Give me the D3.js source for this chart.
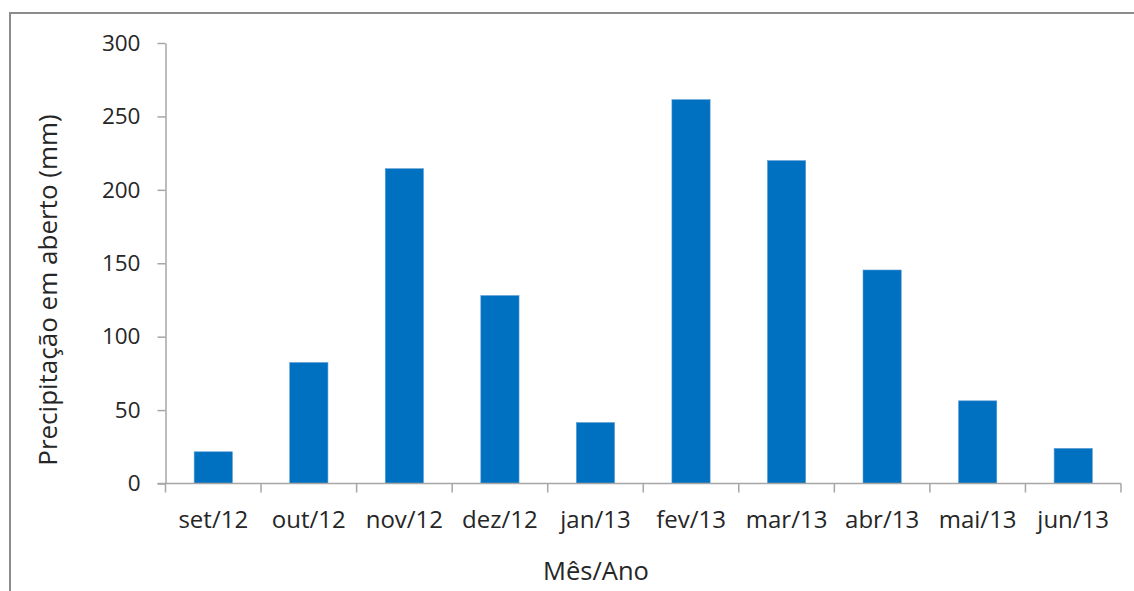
<!DOCTYPE html>
<html>
<head>
<meta charset="utf-8">
<script src="https://cdn.jsdelivr.net/npm/d3@7"></script>
<style>
  html, body { margin: 0; padding: 0; background: #fff; }
  svg { display: block; }
  text { font-family: "Open Sans", "DejaVu Sans", sans-serif; fill: #262626; }
</style>
</head>
<body>
<svg id="chart" width="1134" height="591"></svg>
<script>
// Monthly open-field precipitation, Sep 2012 – Jun 2013
const months = ["set/12", "out/12", "nov/12", "dez/12", "jan/13", "fev/13", "mar/13", "abr/13", "mai/13", "jun/13"];
const precipitation = [21.6, 82.4, 214.4, 128.0, 41.5, 261.4, 219.9, 145.4, 56.3, 23.9];
const yTicks = [0, 50, 100, 150, 200, 250, 300];

const svg = d3.select("#chart");

// Outer frame (runs off the right and bottom edges)
svg.append("rect")
  .attr("x", 10).attr("y", 13)
  .attr("width", 1140).attr("height", 600)
  .attr("fill", "none")
  .attr("stroke", "#8c8c8c")
  .attr("stroke-width", 2);

const plot = { left: 165.5, right: 1121, top: 43, bottom: 483.5 };

const x = d3.scaleBand()
  .domain(months)
  .range([plot.left, plot.right])
  .paddingInner(0.6)
  .paddingOuter(0.3);

const y = d3.scaleLinear()
  .domain([0, 300])
  .range([plot.bottom, plot.top]);

// Bars
svg.append("g")
  .selectAll("rect")
  .data(months)
  .join("rect")
  .attr("x", d => x(d))
  .attr("width", x.bandwidth())
  .attr("y", (d, i) => y(precipitation[i]))
  .attr("height", (d, i) => y(0) - y(precipitation[i]))
  .attr("fill", "#0070c0")
  .attr("stroke", "#5b9bd5")
  .attr("stroke-width", 0.6);

// Y axis
const yAxis = svg.append("g")
  .attr("transform", `translate(${plot.left},0)`)
  .call(d3.axisLeft(y).tickValues(yTicks).tickSize(8).tickPadding(17).tickSizeOuter(0));
yAxis.select(".domain").attr("stroke", "#a6a6a6").attr("stroke-width", 1.5);
yAxis.selectAll(".tick line").attr("stroke", "#a6a6a6").attr("stroke-width", 1.5);
yAxis.selectAll(".tick text")
  .attr("font-size", 22.5)
  .attr("font-family", "'Open Sans', sans-serif")
  .attr("fill", "#262626");

// X axis with boundary ticks between categories
const xAxis = svg.append("g")
  .attr("transform", `translate(0,${plot.bottom})`);
xAxis.append("line")
  .attr("x1", plot.left - 8).attr("x2", plot.right)
  .attr("y1", 0).attr("y2", 0)
  .attr("stroke", "#a6a6a6").attr("stroke-width", 1.5);
const step = x.step();
const boundaries = d3.range(months.length + 1).map(i => plot.left + i * step);
xAxis.selectAll("line.tick")
  .data(boundaries)
  .join("line")
  .attr("class", "tick")
  .attr("x1", d => d).attr("x2", d => d)
  .attr("y1", 0).attr("y2", 9)
  .attr("stroke", "#a6a6a6").attr("stroke-width", 1.5);
xAxis.selectAll("text")
  .data(months)
  .join("text")
  .attr("x", d => x(d) + x.bandwidth() / 2)
  .attr("y", 44)
  .attr("text-anchor", "middle")
  .attr("font-size", 24)
  .text(d => d);

// Axis titles
svg.append("text")
  .attr("x", 596)
  .attr("y", 580)
  .attr("text-anchor", "middle")
  .attr("font-size", 25.5)
  .text("Mês/Ano");

svg.append("text")
  .attr("transform", "translate(57,290) rotate(-90)")
  .attr("text-anchor", "middle")
  .attr("font-size", 26)
  .text("Precipitação em aberto (mm)");
</script>
</body>
</html>
